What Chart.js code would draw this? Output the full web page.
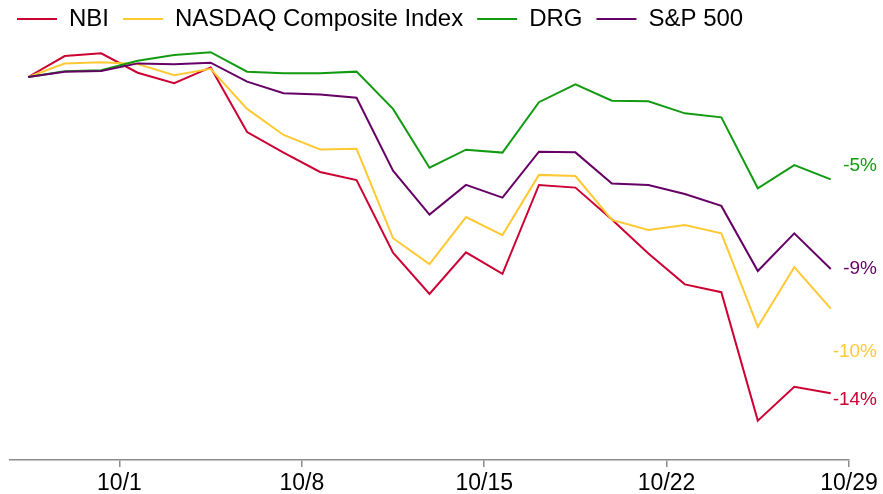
<!DOCTYPE html>
<html>
<head>
<meta charset="utf-8">
<script src="https://cdn.jsdelivr.net/npm/chart.js@4/dist/chart.umd.min.js"></script>
<style>
  html, body { margin: 0; padding: 0; background: #fff; }
  #wrap { width: 883px; height: 494px; position: relative; }
</style>
</head>
<body>
<div id="wrap"><canvas id="perfChart"></canvas></div>
<script>
// trading days, Sep 27 - Oct 29
var dates = ['9/27','9/28','10/1','10/2','10/3','10/4','10/5','10/8','10/9','10/10','10/11','10/12',
             '10/15','10/16','10/17','10/18','10/19','10/22','10/23','10/24','10/25','10/26','10/29'];
var tickLabels = ['10/1','10/8','10/15','10/22','10/29'];

// % change since 9/27
var nbi    = [0, 0.94, 1.06, 0.19, -0.28, 0.43, -2.47, -3.39, -4.26, -4.62, -7.88, -9.73,
              -7.86, -8.83, -4.84, -4.96, -6.39, -7.91, -9.30, -9.65, -15.41, -13.89, -14.18];
var nasdaq = [0, 0.60, 0.66, 0.58, 0.08, 0.37, -1.43, -2.60, -3.25, -3.22, -7.23, -8.39,
              -6.28, -7.09, -4.39, -4.44, -6.41, -6.86, -6.64, -7.01, -11.20, -8.53, -10.39];
var drg    = [0, 0.26, 0.30, 0.73, 0.99, 1.11, 0.24, 0.17, 0.17, 0.24, -1.43, -4.07,
              -3.26, -3.39, -1.13, -0.33, -1.06, -1.09, -1.63, -1.81, -4.99, -3.95, -4.59];
var sp500  = [0, 0.24, 0.27, 0.61, 0.57, 0.64, -0.21, -0.73, -0.78, -0.93, -4.20, -6.17,
              -4.84, -5.41, -3.35, -3.38, -4.78, -4.84, -5.25, -5.78, -8.70, -7.01, -8.61];

var seriesNames = ['NBI', 'NASDAQ Composite Index', 'DRG', 'S&P 500'];
var endLabels = ['-14%', '-10%', '-5%', '-9%'];

var colors = ['#CC0033', '#FFC933', '#129B12', '#660066'];
var labelNudge = [7, 43, -14, 0];   // px, so the end labels don't collide

function toPoints(arr) {
    return arr.map(function (v, i) { return { x: i, y: v }; });
}

var endLabelPlugin = {
    id: 'endLabels',
    afterDatasetsDraw: function (chart) {
        var ctx = chart.ctx;
        var yScale = chart.scales.y;
        ctx.save();
        ctx.font = '19px "Liberation Sans", Arial, sans-serif';
        ctx.textAlign = 'right';
        ctx.textBaseline = 'middle';
        chart.data.datasets.forEach(function (ds, i) {
            var last = ds.data[ds.data.length - 1].y;
            ctx.fillStyle = colors[i];
            ctx.fillText(endLabels[i], chart.chartArea.right + 28, yScale.getPixelForValue(last) + labelNudge[i]);
        });
        ctx.restore();
    }
};

var allSeries = [nbi, nasdaq, drg, sp500];
var datasets = allSeries.map(function (s, i) {
    return {
        label: seriesNames[i],
        data: toPoints(s),
        borderColor: colors[i],
        backgroundColor: colors[i],
        borderWidth: 2,
        pointRadius: 0,
        tension: 0,
        fill: false,
        order: 4 - i
    };
});

var perfConfig = {
    type: 'line',
    data: { datasets: datasets },
    options: {
        responsive: true,
        maintainAspectRatio: false,
        animation: false,
        layout: { padding: { left: 3, right: 34, top: -7, bottom: -6 } },
        plugins: {
            legend: {
                position: 'top',
                align: 'start',
                labels: {
                    usePointStyle: true,
                    pointStyle: 'line',
                    pointStyleWidth: 40,
                    padding: 14,
                    color: '#000',
                    font: { family: '"Liberation Sans", Arial, sans-serif', size: 24 },
                    sort: function (a, b) { return a.datasetIndex - b.datasetIndex; }
                }
            },
            tooltip: { enabled: false }
        },
        scales: {
            x: {
                type: 'linear',
                min: -0.5,
                max: dates.length - 0.5,
                afterBuildTicks: function (scale) {
                    scale.ticks = tickLabels.map(function (l) {
                        return { value: dates.indexOf(l) + 0.5 };
                    });
                },
                ticks: {
                    autoSkip: false,
                    maxRotation: 0,
                    padding: 5,
                    color: '#000',
                    font: { family: '"Liberation Sans", Arial, sans-serif', size: 23, lineHeight: 1.0 },
                    callback: function (value) {
                        return dates[Math.round(value - 0.5)];
                    }
                },
                grid: {
                    display: true,
                    drawOnChartArea: false,
                    drawTicks: true,
                    tickLength: 7,
                    color: '#8c8c8c',
                    lineWidth: 1.5
                },
                border: { display: true, color: '#8c8c8c', width: 1.5 }
            },
            y: {
                min: -17.175,
                max: 1.614,
                ticks: { display: false },
                grid: { display: false },
                border: { display: false },
                afterFit: function (scale) { scale.width = 7; }
            }
        }
    },
    plugins: [endLabelPlugin]
};

var perfCtx = document.getElementById('perfChart');
var perfChart = new Chart(perfCtx, perfConfig);
</script>
</body>
</html>
